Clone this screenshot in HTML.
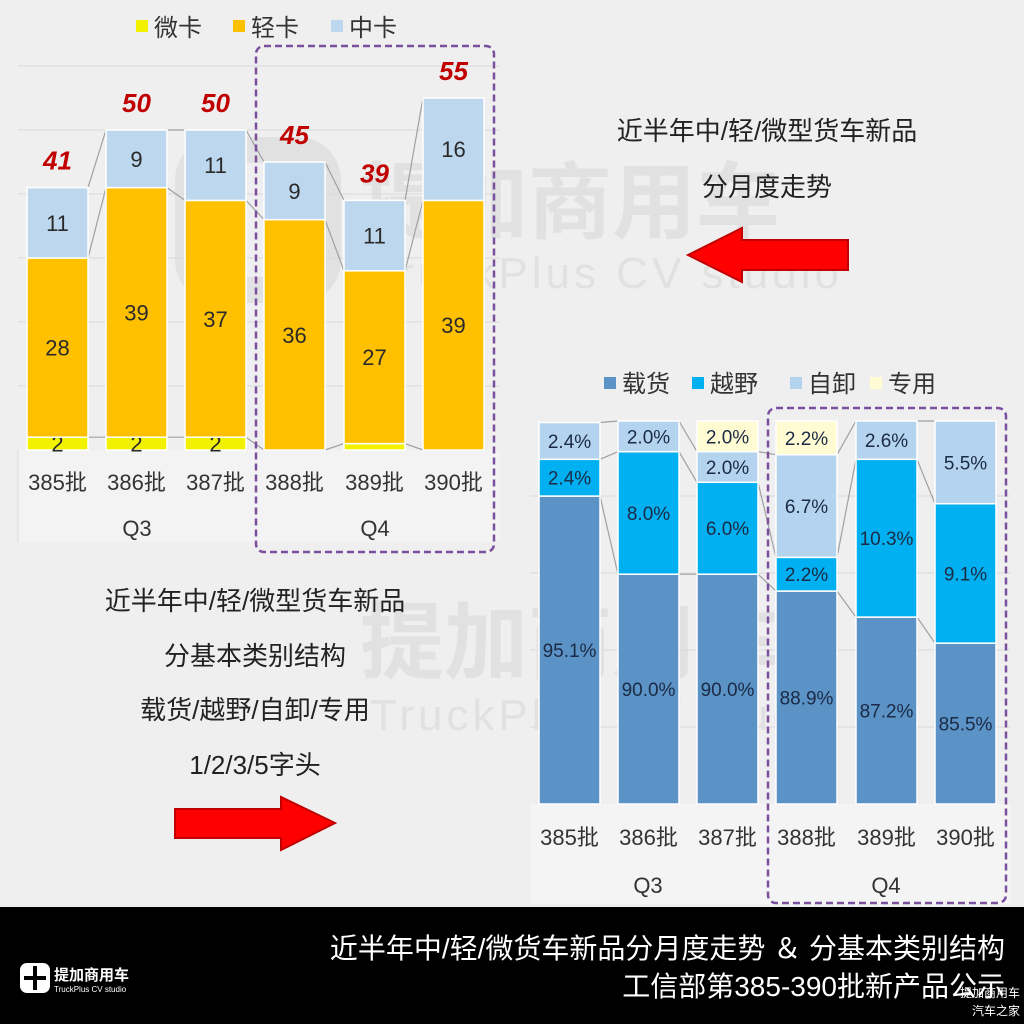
<!DOCTYPE html>
<html><head><meta charset="utf-8"><style>
html,body{margin:0;padding:0;background:#efefef;}
svg{display:block;font-family:"Liberation Sans","Noto Sans CJK SC",sans-serif;}
</style></head><body>
<svg id="s" width="1024" height="1024" viewBox="0 0 1024 1024" xmlns="http://www.w3.org/2000/svg">
<rect width="1024" height="1024" fill="#efefef"/>
<g id="wm" fill="#8a8a8a" opacity="0.13" font-weight="bold">
<text x="360" y="232" font-size="84">提加商用车</text>
<text x="370" y="288" font-size="44" font-weight="normal" letter-spacing="4">TruckPlus CV studio</text>
<rect x="188" y="150" width="140" height="140" rx="30" fill="none" stroke="#8a8a8a" stroke-width="26"/>
<text x="360" y="672" font-size="84">提加商用车</text>
<text x="370" y="730" font-size="44" font-weight="normal" letter-spacing="4">TruckPlus CV studio</text>
</g>
<g id="top"></g>
<g id="bot"></g>
<text x="767" y="140" font-size="26" text-anchor="middle" fill="#222">近半年中/轻/微型货车新品</text>
<text x="767" y="196" font-size="26" text-anchor="middle" fill="#222">分月度走势</text>
<polygon points="688,255 742,228 742,240 848,240 848,270 742,270 742,282" fill="#ff0000" stroke="#c00000" stroke-width="2"/>
<text x="255" y="610" font-size="26" text-anchor="middle" fill="#222">近半年中/轻/微型货车新品</text>
<text x="255" y="665" font-size="26" text-anchor="middle" fill="#222">分基本类别结构</text>
<text x="255" y="719" font-size="26" text-anchor="middle" fill="#222">载货/越野/自卸/专用</text>
<text x="255" y="774" font-size="26" text-anchor="middle" fill="#222">1/2/3/5字头</text>
<polygon points="335,823 281,797 281,809 175,809 175,838 281,838 281,850" fill="#ff0000" stroke="#c00000" stroke-width="2"/>
<rect x="0" y="907" width="1024" height="117" fill="#000"/>
<text x="1005" y="958" font-size="28" text-anchor="end" fill="#fff">近半年中/轻/微货车新品分月度走势 ＆ 分基本类别结构</text>
<text x="1005" y="996" font-size="28" text-anchor="end" fill="#fff">工信部第385-390批新产品公示</text>
<rect x="20" y="963" width="30" height="30" rx="7" fill="#fff"/>
<path d="M35 966 V990 M24 978 H46" stroke="#000" stroke-width="4"/>
<text x="54" y="980" font-size="15" font-weight="bold" fill="#fff">提加商用车</text>
<text x="54" y="992" font-size="8" fill="#fff">TruckPlus CV studio</text>
<text x="1020" y="997" font-size="12" text-anchor="end" fill="#fff">提加商用车</text>
<text x="1020" y="1015" font-size="12" text-anchor="end" fill="#fff">汽车之家</text>
</svg>
<script>
var NS="http://www.w3.org/2000/svg";
function el(p,t,a,txt){var e=document.createElementNS(NS,t);for(var k in a)e.setAttribute(k,a[k]);if(txt!=null)e.textContent=txt;p.appendChild(e);return e;}
var g=document.getElementById('top');
el(g,'rect',{x:18,y:450,width:482,height:92,fill:'#f3f3f3'});
el(g,'line',{x1:18,y1:450,x2:18,y2:542,stroke:'#d8d8d8'});
for(var i=1;i<=6;i++){var y=450-64*i;el(g,'line',{x1:18,y1:y,x2:500,y2:y,stroke:'#dadada','stroke-width':1});}
var tx=[27,106,185,264,344,423],bw=61;
var td=[[2,28,11],[2,39,9],[2,37,11],[0,36,9],[1,27,11],[0,39,16]];
var tl=[['2','28','11'],['2','39','9'],['2','37','11'],['','36','9'],['','27','11'],['','39','16']];
var tc=['#f2f200','#ffc000','#bdd7ee'];
function ty(v){return 450-6.4*v;}
var cum=[];
td.forEach(function(d,i){var c=0,cs=[0];d.forEach(function(v){c+=v;cs.push(c);});cum.push(cs);});
for(var i=0;i<5;i++)for(var s=1;s<=3;s++){el(g,'line',{x1:tx[i]+bw,y1:ty(cum[i][s]),x2:tx[i+1],y2:ty(cum[i+1][s]),stroke:'#a0a0a0','stroke-width':1.2});}
td.forEach(function(d,i){for(var s=0;s<3;s++){if(d[s]<=0)continue;var y0=ty(cum[i][s]),y1=ty(cum[i][s+1]);
el(g,'rect',{x:tx[i],y:y1,width:bw,height:y0-y1,fill:tc[s],stroke:'#fff','stroke-width':1.5});
if(tl[i][s])el(g,'text',{x:tx[i]+bw/2,y:(y0+y1)/2+8,'font-size':22,'text-anchor':'middle',fill:'#2a2a2a'},tl[i][s]);}
var tot=cum[i][3];el(g,'text',{x:tx[i]+bw/2,y:ty(tot)-18,'font-size':26,'font-weight':'bold','font-style':'italic','text-anchor':'middle',fill:'#c00000'},tot);
el(g,'text',{x:tx[i]+bw/2,y:490,'font-size':22,'text-anchor':'middle',fill:'#333'},(385+i)+'批');});
el(g,'text',{x:137,y:536,'font-size':22,'text-anchor':'middle',fill:'#333'},'Q3');
el(g,'text',{x:375,y:536,'font-size':22,'text-anchor':'middle',fill:'#333'},'Q4');
[[136,'#f2f200','微卡'],[233,'#ffc000','轻卡'],[331,'#bdd7ee','中卡']].forEach(function(l){el(g,'rect',{x:l[0],y:20,width:12,height:12,fill:l[1]});el(g,'text',{x:l[0]+18,y:36,'font-size':24,fill:'#333'},l[2]);});
el(g,'rect',{x:256,y:46,width:238,height:506,rx:8,fill:'none',stroke:'#7a4f9e','stroke-width':2.5,'stroke-dasharray':'7,4'});
// BOTTOM CHART (axis 75%-100%)
var b=document.getElementById('bot');
el(b,'rect',{x:530,y:804,width:480,height:100,fill:'#f4f4f4'});
for(var i=1;i<=4;i++){var y=804-i*77;el(b,'line',{x1:530,y1:y,x2:1010,y2:y,stroke:'#dadada'});}
var bx=[539,618,697,776,856,935];
var bd=[[95.1,2.4,2.4,0],[90,8,2,0],[90,6,2,2],[88.9,2.2,6.7,2.2],[87.2,10.3,2.6,0],[85.5,9.1,5.5,0]];
var bc=['#5b93c7','#00b0f0','#b4d3ee','#fffbd2'];
function by(p){return 804-15.32*(p-75);}
var bcum=bd.map(function(d){var c=0,cs=[0];d.forEach(function(v){c+=v;cs.push(Math.min(c,100));});cs[0]=75;return cs;});
for(var i=0;i<5;i++)for(var s=1;s<=3;s++){el(b,'line',{x1:bx[i]+bw,y1:by(bcum[i][s]),x2:bx[i+1],y2:by(bcum[i+1][s]),stroke:'#a0a0a0','stroke-width':1.2});}
bd.forEach(function(d,i){for(var s=0;s<4;s++){if(d[s]<=0)continue;var y0=by(bcum[i][s]),y1=by(bcum[i][s+1]);
el(b,'rect',{x:bx[i],y:y1,width:bw,height:y0-y1,fill:bc[s],stroke:'#fff','stroke-width':1.5});
el(b,'text',{x:bx[i]+bw/2,y:(y0+y1)/2+7,'font-size':19,'text-anchor':'middle',fill:'#1b2a45'},d[s].toFixed(1)+'%');}
el(b,'text',{x:bx[i]+bw/2,y:845,'font-size':22,'text-anchor':'middle',fill:'#333'},(385+i)+'批');});
el(b,'text',{x:648,y:893,'font-size':22,'text-anchor':'middle',fill:'#333'},'Q3');
el(b,'text',{x:886,y:893,'font-size':22,'text-anchor':'middle',fill:'#333'},'Q4');
[[604,'#5b93c7','载货'],[692,'#00b0f0','越野'],[790,'#b4d3ee','自卸'],[870,'#fffbd2','专用']].forEach(function(l){el(b,'rect',{x:l[0],y:377,width:12,height:12,fill:l[1]});el(b,'text',{x:l[0]+18,y:392,'font-size':24,fill:'#333'},l[2]);});
el(b,'rect',{x:768,y:408,width:238,height:495,rx:8,fill:'none',stroke:'#7a4f9e','stroke-width':2.5,'stroke-dasharray':'7,4'});
</script>
</body></html>
